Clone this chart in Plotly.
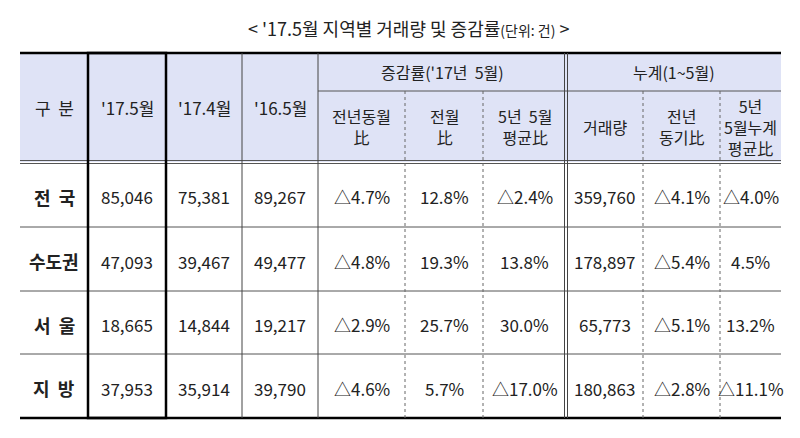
import plotly.graph_objects as go

title = "< '17.5월 지역별 거래량 및 증감률<span style='font-size:14px'>(단위: 건)</span> >"
regions = ["전  국", "수도권", "서  울", "지  방"]
may17 = ["85,046", "47,093", "18,665", "37,953"]
apr17 = ["75,381", "39,467", "14,844", "35,914"]
may16 = ["89,267", "49,477", "19,217", "39,790"]
yoy = ["△4.7%", "△4.8%", "△2.9%", "△4.6%"]
mom = ["12.8%", "19.3%", "25.7%", "5.7%"]
avg5 = ["△2.4%", "13.8%", "30.0%", "△17.0%"]
cum_vol = ["359,760", "178,897", "65,773", "180,863"]
cum_yoy = ["△4.1%", "△5.4%", "△5.1%", "△2.8%"]
cum_avg5 = ["△4.0%", "4.5%", "13.2%", "△11.1%"]

head_top = ["구  분", "'17.5월", "'17.4월", "'16.5월"]
group_heads = ["증감률('17년  5월)", "누계(1~5월)"]
sub_heads = ["전년동월<br>比", "전월<br>比", "5년  5월<br>평균比", "거래량", "전년<br>동기比", "5년<br>5월누계<br>평균比"]

xs = [12, 80, 158, 234, 310, 397, 475, 558, 635, 712, 773]
ys = [45, 83, 154, 219, 283, 346, 410]
FONT = "Noto Sans CJK KR"

shapes = [dict(type="rect", x0=xs[0], x1=xs[-1], y0=ys[0], y1=ys[2],
               fillcolor="#dfe3f6", line_width=0, layer="below")]
line = lambda x0, y0, x1, y1, w=1, c="#333", d="solid": shapes.append(
    dict(type="line", x0=x0, y0=y0, x1=x1, y1=y1, line=dict(width=w, color=c, dash=d)))
line(xs[0], ys[0], xs[-1], ys[0], 2.5, "#000")
line(xs[0], ys[-1], xs[-1], ys[-1], 2.5, "#000")
line(xs[4], ys[1], xs[-1], ys[1], 1, "#555")
line(xs[0], ys[2] - 1.5, xs[-1], ys[2] - 1.5, 1, "#555")
line(xs[0], ys[2] + 1.5, xs[-1], ys[2] + 1.5, 1, "#555")
for y in ys[3:-1]:
    line(xs[0], y, xs[-1], y, 1, "#555")
for x in xs[2:-1]:
    if x == xs[7]:
        line(x - 1.5, ys[0], x - 1.5, ys[-1], 1, "#444")
        line(x + 1.5, ys[0], x + 1.5, ys[-1], 1, "#444")
    elif x in (xs[5], xs[6], xs[8], xs[9]):
        line(x, ys[1], x, ys[-1], 1, "#666", "dot")
    else:
        line(x, ys[0], x, ys[-1], 1, "#444")
shapes.append(dict(type="rect", x0=xs[1], x1=xs[2], y0=ys[0], y1=ys[-1],
                   line=dict(width=2.5, color="#000")))

ann = []
def txt(x, y, t, size=16, bold=False):
    ann.append(dict(x=x, y=y, text=f"<b>{t}</b>" if bold else t, showarrow=False,
                    font=dict(family=FONT, size=size, color="#222"), xanchor="center", yanchor="middle"))

txt(400, 20, title, 18)
for i, t in enumerate(head_top):
    txt((xs[i] + xs[i + 1]) / 2, (ys[0] + ys[2]) / 2, t, 17)
txt((xs[4] + xs[7]) / 2, (ys[0] + ys[1]) / 2, group_heads[0], 16)
txt((xs[7] + xs[10]) / 2, (ys[0] + ys[1]) / 2, group_heads[1], 16)
for i, t in enumerate(sub_heads):
    txt((xs[4 + i] + xs[5 + i]) / 2, (ys[1] + ys[2]) / 2, t, 16)
cols = [regions, may17, apr17, may16, yoy, mom, avg5, cum_vol, cum_yoy, cum_avg5]
for c, col in enumerate(cols):
    for r, v in enumerate(col):
        txt((xs[c] + xs[c + 1]) / 2, (ys[2 + r] + ys[3 + r]) / 2 + 2, v, 18 if c == 0 else 17, c == 0)

fig = go.Figure()
fig.update_layout(width=800, height=438, margin=dict(l=0, r=0, t=0, b=0),
                  plot_bgcolor="white", paper_bgcolor="white", shapes=shapes, annotations=ann,
                  xaxis=dict(range=[0, 800], visible=False, fixedrange=True),
                  yaxis=dict(range=[438, 0], visible=False, fixedrange=True))
fig.write_html("out.html")
